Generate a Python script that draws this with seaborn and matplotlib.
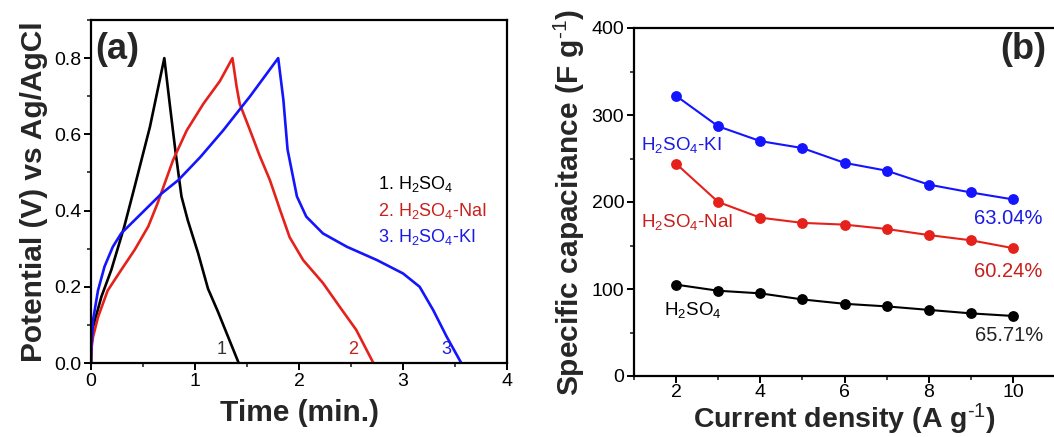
import numpy as np
import pandas as pd
import matplotlib
matplotlib.use("Agg")
import matplotlib.pyplot as plt
import seaborn as sns
from matplotlib.ticker import MultipleLocator

# ---------------- data: panel (a) galvanostatic charge/discharge ----------------
t_h2so4 = [0.0, 0.003, 0.02, 0.10, 0.195, 0.32, 0.42, 0.567, 0.705,
           0.76, 0.81, 0.87, 0.93, 1.03, 1.125, 1.22, 1.42]
v_h2so4 = [0.0, 0.05, 0.095, 0.174, 0.244, 0.358, 0.463, 0.62, 0.80,
           0.673, 0.56, 0.437, 0.375, 0.288, 0.195, 0.135, 0.0]

t_nai = [0.0, 0.005, 0.02, 0.067, 0.16, 0.29, 0.42, 0.55, 0.64, 0.72, 0.79, 0.92, 1.08, 1.24, 1.36,
         1.40, 1.43, 1.53, 1.62, 1.72, 1.82, 1.91, 2.04, 2.23, 2.39, 2.55, 2.715]
v_nai = [0.0, 0.04, 0.069, 0.12, 0.19, 0.244, 0.297, 0.358, 0.419, 0.48, 0.533, 0.61, 0.68, 0.74, 0.80,
         0.725, 0.68, 0.61, 0.545, 0.48, 0.40, 0.33, 0.27, 0.21, 0.148, 0.087, 0.0]

t_ki = [0.0, 0.003, 0.02, 0.067, 0.13, 0.21, 0.29, 0.42, 0.55, 0.68, 0.84, 1.05, 1.27, 1.53, 1.80,
        1.85, 1.89, 1.98, 2.07, 2.23, 2.46, 2.75, 3.0, 3.16, 3.29, 3.42, 3.56]
v_ki = [0.0, 0.043, 0.113, 0.19, 0.253, 0.305, 0.34, 0.375, 0.41, 0.445, 0.48, 0.54, 0.61, 0.70, 0.80,
        0.69, 0.56, 0.437, 0.384, 0.34, 0.305, 0.27, 0.235, 0.20, 0.139, 0.069, 0.0]

# ---------------- data: panel (b) rate capability ----------------
current_density = [2, 3, 4, 5, 6, 7, 8, 9, 10]
cap_ki = [322, 287, 270, 262, 245, 236, 220, 211, 203]
cap_nai = [244, 200, 182, 176, 174, 169, 162, 156, 147]
cap_h2so4 = [105, 98, 95, 88, 83, 80, 76, 72, 69]
retention = ["63.04%", "60.24%", "65.71%"]

BLACK = "#000000"
RED = "#e5211b"
BLUE = "#1414ff"
RED_TXT = "#c8201c"
BLUE_TXT = "#1a1ae6"

sns.set_style("ticks")
plt.rcParams["font.family"] = ["Liberation Sans", "DejaVu Sans"]
plt.rcParams["mathtext.fontset"] = "custom"
plt.rcParams["mathtext.rm"] = "Liberation Sans"
plt.rcParams["mathtext.it"] = "Liberation Sans:italic"
plt.rcParams["mathtext.bf"] = "Liberation Sans:bold"

fig = plt.figure(figsize=(10.54, 4.37), dpi=100)
W, H = 1054, 437
ax1 = fig.add_axes([91 / W, (H - 363) / H, 416 / W, 343 / H])
ax2 = fig.add_axes([634 / W, (H - 376) / H, 421 / W, 348 / H])

H2SO4 = r"H$_2$SO$_4$"
LABEL_FS = 21.5

# ---------- panel (a) ----------
for t, v, c in [(t_h2so4, v_h2so4, BLACK), (t_nai, v_nai, RED), (t_ki, v_ki, BLUE)]:
    df = pd.DataFrame({"t": t, "v": v})
    sns.lineplot(data=df, x="t", y="v", sort=False, color=c, lw=1.9, ax=ax1)

ax1.set_xlim(0, 4)
ax1.set_ylim(0, 0.9)
ax1.xaxis.set_major_locator(MultipleLocator(1))
ax1.xaxis.set_minor_locator(MultipleLocator(0.5))
ax1.yaxis.set_minor_locator(MultipleLocator(0.1))
ax1.set_yticks([0, 0.2, 0.4, 0.6, 0.8])
ax1.set_yticklabels(["0.0", "0.2", "0.4", "0.6", "0.8"])
ax1.set_xlabel("Time (min.)", fontsize=LABEL_FS, fontweight="bold", labelpad=7)
ax1.set_ylabel("Potential (V) vs Ag/AgCl", fontsize=LABEL_FS, fontweight="bold", labelpad=4)
ax1.text(0.01, 0.913, "(a)", transform=ax1.transAxes, fontsize=26, fontweight="bold",
         va="center", ha="left")
ax1.text(2.76, 0.47, "1. " + H2SO4, color=BLACK, fontsize=13, va="center")
ax1.text(2.76, 0.40, "2. " + H2SO4 + "-NaI", color=RED_TXT, fontsize=13, va="center")
ax1.text(2.76, 0.33, "3. " + H2SO4 + "-KI", color=BLUE_TXT, fontsize=13, va="center")
ax1.text(1.26, 0.035, "1", color="#333333", fontsize=13, ha="center", va="center")
ax1.text(2.52, 0.035, "2", color=RED_TXT, fontsize=13, ha="center", va="center")
ax1.text(3.42, 0.035, "3", color=BLUE_TXT, fontsize=13, ha="center", va="center")

# ---------- panel (b) ----------
dfb = pd.DataFrame({
    "x": current_density * 3,
    "y": cap_ki + cap_nai + cap_h2so4,
    "s": ["KI"] * 9 + ["NaI"] * 9 + ["H2SO4"] * 9,
})
sns.lineplot(data=dfb, x="x", y="y", hue="s", palette={"KI": BLUE, "NaI": RED, "H2SO4": BLACK},
             marker="o", markersize=7.8, markeredgewidth=0, lw=1.5, legend=False, ax=ax2)

ax2.set_xlim(1, 11)
ax2.set_ylim(0, 400)
ax2.xaxis.set_minor_locator(MultipleLocator(1))
ax2.yaxis.set_major_locator(MultipleLocator(100))
ax2.yaxis.set_minor_locator(MultipleLocator(50))
ax2.set_xticks([2, 4, 6, 8, 10])
ax2.spines["right"].set_visible(False)
ax2.set_xlabel(r"Current density (A g$^{\text{-1}}$)", fontsize=20.5, fontweight="bold", labelpad=0)
ax2.set_ylabel(r"Specific capacitance (F g$^{\text{-1}}$)", fontsize=LABEL_FS, fontweight="bold", labelpad=3)
ax2.text(0.869, 0.937, "(b)", transform=ax2.transAxes, fontsize=26, fontweight="bold",
         va="center", ha="left")
ax2.text(1.17, 265, H2SO4 + "-KI", color=BLUE_TXT, fontsize=13.5, va="center")
ax2.text(1.17, 177, H2SO4 + "-NaI", color=RED_TXT, fontsize=13.5, va="center")
ax2.text(1.71, 76, H2SO4, color=BLACK, fontsize=13.5, va="center")
ax2.text(9.88, 181, retention[0], color=BLUE_TXT, fontsize=14.5, ha="center", va="center")
ax2.text(9.88, 120, retention[1], color=RED_TXT, fontsize=14.5, ha="center", va="center")
ax2.text(9.92, 47, retention[2], color="#222222", fontsize=14.5, ha="center", va="center")

for ax in (ax1, ax2):
    for s in ax.spines.values():
        s.set_linewidth(1.6)
        s.set_color("black")
    ax.tick_params(which="major", direction="out", length=5, width=1.4, labelsize=14,
                   colors="black", pad=2)
    ax.tick_params(which="minor", direction="out", length=3, width=1.2)
    ax.tick_params(axis="both", which="both", top=False, right=False)
ax2.tick_params(axis="x", which="major", pad=1)

fig.savefig("out.png", dpi=100)
